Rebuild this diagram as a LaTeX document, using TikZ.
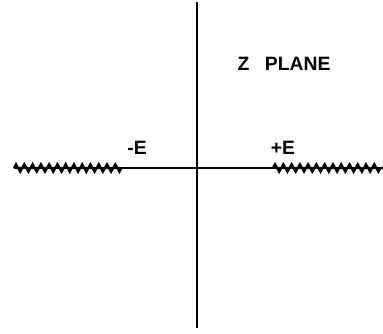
\documentclass[tikz,border=0pt]{standalone}
\usepackage{fontspec}
\setmainfont{Liberation Sans}
\usepackage{tikz}
\usetikzlibrary{decorations.pathmorphing,positioning}
\tikzset{
  cutline/.style={line width=1.7pt,decorate,decoration={zigzag,segment length=6.2pt,amplitude=2.8pt}},
  axisline/.style={line width=1pt},
  lbl/.style={font=\fontsize{14.5}{16}\selectfont\bfseries}
}
\begin{document}
\begin{tikzpicture}[x=0.75pt,y=0.75pt]
\useasboundingbox (0,0) rectangle (383,334);
\coordinate (top) at (197,332);
\coordinate (bot) at (197,6);
\coordinate (lft) at (14,166);
\coordinate (rgt) at (383,166);
\coordinate (lcut) at (122,166);
\coordinate (rcut) at (273,166);
\draw[axisline] (top)--(bot);
\draw[axisline] (lft)--(rgt);
\draw[cutline] (lft)--(lcut);
\draw[cutline] (rcut)--(rgt);
\node[lbl] (minusE) at (137,186){-E};
\node[lbl] (plusE) at (283,186){+E};
\node[lbl] (zplane) at (284,270){Z\hspace{0.8em}PLANE};
\end{tikzpicture}
\end{document}
